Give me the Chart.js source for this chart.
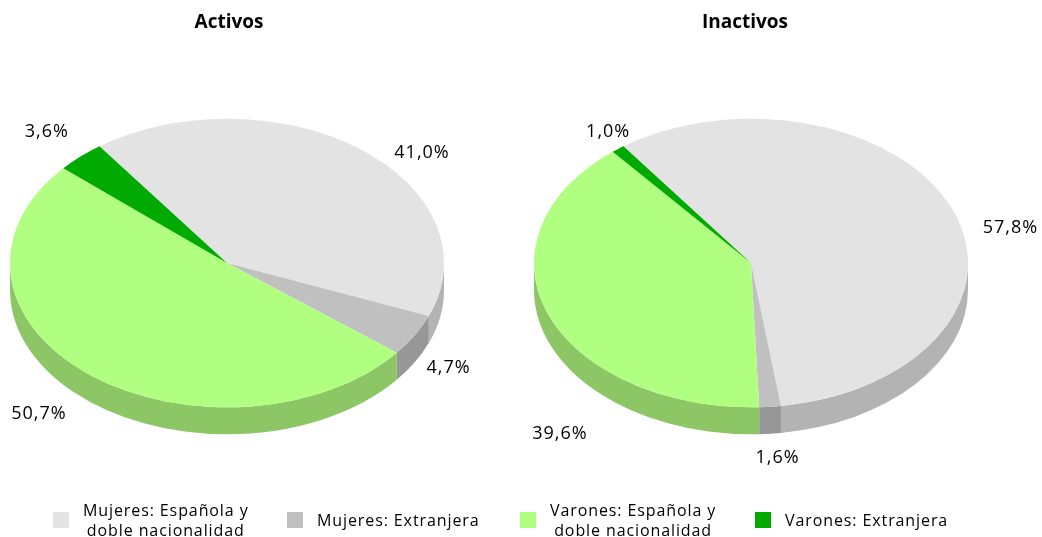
<!DOCTYPE html>
<html>
<head>
<meta charset="utf-8">
<script src="https://cdn.jsdelivr.net/npm/chart.js@4.4.0/dist/chart.umd.min.js"></script>
<style>
    body { margin: 0; background: #fff; width: 1042px; height: 537px; position: relative; overflow: hidden;
           font-family: 'Open Sans', sans-serif; color: #000; }
    canvas { position: absolute; top: 0; }
    .title { position: absolute; top: 8px; font-weight: bold; font-size: 19px; transform: translateX(-50%); }
    .item { position: absolute; top: 499px; height: 42px; display: flex; align-items: center; font-size: 16px; letter-spacing: 0.9px; }
    .sw { width: 16px; height: 16px; margin-right: 14px; }
    .txt { text-align: center; line-height: 20px; }
</style>
</head>
<body>
<canvas id="c0" width="521" height="526" style="left:0"></canvas>
<canvas id="c1" width="521" height="526" style="left:521px"></canvas>
<div class="title" style="left:229px">Activos</div>
<div class="title" style="left:745px">Inactivos</div>
<div id="legend"></div>
<script>
const categories = [
    ['Mujeres: Española y', 'doble nacionalidad'],
    ['Mujeres: Extranjera'],
    ['Varones: Española y', 'doble nacionalidad'],
    ['Varones: Extranjera']
];
const activos = [41.0, 4.7, 50.7, 3.6];
const inactivos = [57.8, 1.6, 39.6, 1.0];

const topColors = ['#e3e3e3', '#c0c0c0', '#b0ff80', '#00aa00'];
const sideColors = ['#b3b3b3', '#979797', '#8cc665', '#008800'];
const legendLeft = [53, 287, 520, 755];

// fake 3d: squash the pie and paint the front wall under it
let pie3d = {
    id: 'pie3d',
    beforeDatasetsDraw: function(chart, args, opts) {
        let ctx = chart.ctx;
        let arcs = chart.getDatasetMeta(0).data;
        if (!arcs.length) return;
        let cx = arcs[0].x, cy = arcs[0].y, r = arcs[0].outerRadius;
        let d = opts.depth / opts.tilt;
        ctx.save();
        ctx.translate(cx, cy);
        ctx.scale(1, opts.tilt);
        ctx.translate(-cx, -cy);
        arcs.forEach((a, i) => {
            for (let k = -1; k <= 1; k++) {
                let lo = Math.max(a.startAngle, 2 * Math.PI * k);
                let hi = Math.min(a.endAngle, Math.PI + 2 * Math.PI * k);
                if (hi <= lo) continue;
                ctx.beginPath();
                ctx.arc(cx, cy, r, lo, hi);
                ctx.arc(cx, cy + d, r, hi, lo, true);
                ctx.closePath();
                ctx.fillStyle = sideColors[i];
                ctx.fill();
            }
        });
    },
    afterDatasetsDraw: function(chart) {
        chart.ctx.restore();
    },
    afterDraw: function(chart, args, opts) {
        let ctx = chart.ctx;
        let arcs = chart.getDatasetMeta(0).data;
        let values = chart.data.datasets[0].data;
        ctx.save();
        ctx.font = '18px "Open Sans"';
        ctx.letterSpacing = '1px';
        ctx.fillStyle = '#000';
        ctx.textAlign = 'center';
        ctx.textBaseline = 'middle';
        arcs.forEach((a, i) => {
            let ang = a.startAngle + opts.labelFrac[i] * (a.endAngle - a.startAngle);
            let rr = a.outerRadius * opts.labelDist[i];
            let sin = Math.sin(ang);
            let x = a.x + rr * Math.cos(ang);
            let y = a.y + rr * sin * opts.tilt + (sin > 0 ? opts.depth * Math.min(1, sin * 2) : 0);
            ctx.fillText(values[i].toFixed(1).replace('.', ',') + '%', x, y);
        });
        ctx.restore();
    }
};

let buildPie = function(id, data, padRight, labelFrac, labelDist) {
    return new Chart(document.getElementById(id), {
        type: 'pie',
        data: {
            labels: categories,
            datasets: [{
                data: data,
                backgroundColor: topColors,
                borderWidth: 0,
            }]
        },
        options: {
            responsive: false,
            animation: false,
            rotation: -36,
            radius: 217,
            layout: { padding: { right: padRight } },
            events: [],
            plugins: {
                legend: { display: false },
                tooltip: { enabled: false },
                pie3d: {
                    tilt: 0.665,
                    depth: 27,
                    labelFrac: labelFrac,
                    labelDist: labelDist,
                }
            }
        },
        plugins: [pie3d]
    });
};

buildPie('c0', activos, 67, [0.58, 0.4, 0.53, 0.5], [1.18, 1.16, 1.22, 1.23]);
buildPie('c1', inactivos, 61, [0.55, 0.33, 0.306, 1.0], [1.22, 1.17, 1.33, 1.12]);

let legend = document.getElementById('legend');
categories.forEach((c, i) => {
    let item = document.createElement('div');
    item.className = 'item';
    item.style.left = legendLeft[i] + 'px';
    item.innerHTML = '<div class="sw" style="background:' + topColors[i] + '"></div>' +
        '<div class="txt">' + c.join('<br>') + '</div>';
    legend.appendChild(item);
});
</script>
</body>
</html>
